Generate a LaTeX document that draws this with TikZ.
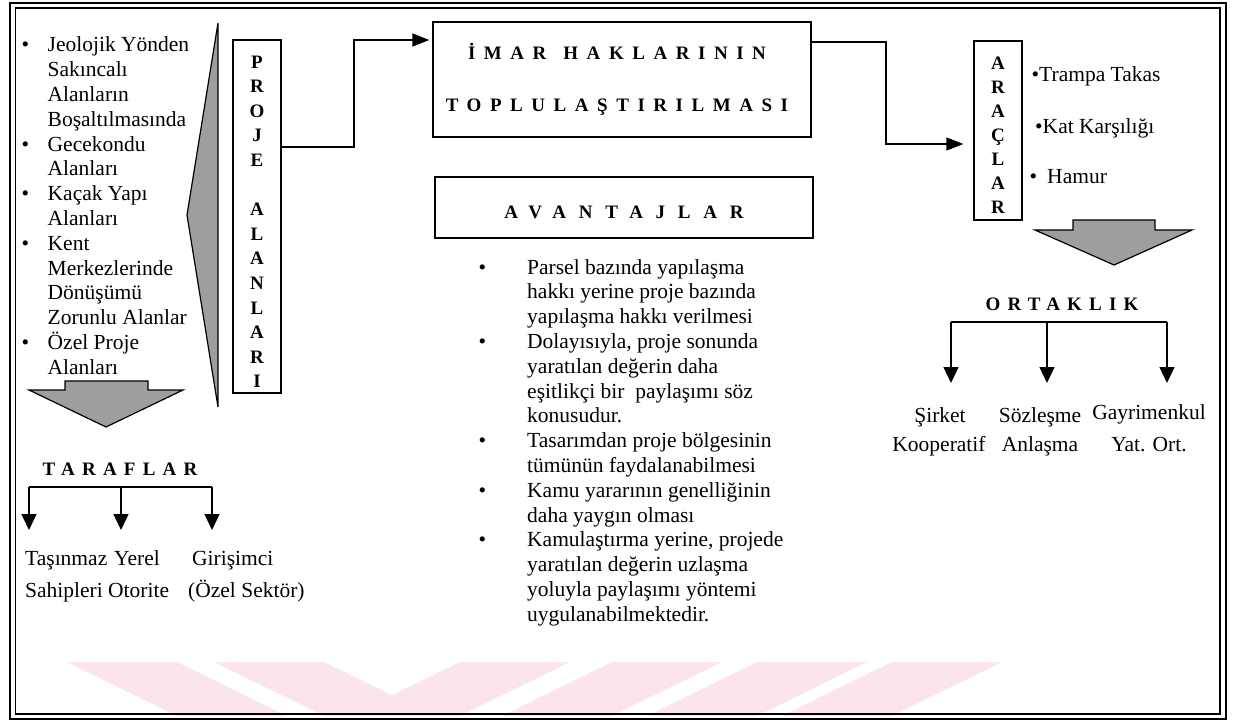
\documentclass[tikz,border=0pt]{standalone}
\usepackage{fontspec}
\setmainfont{Liberation Serif}
\newfontfamily\titlefont[LetterSpace=45]{Liberation Serif}
\newfontfamily\widefont[LetterSpace=67]{Liberation Serif}
\newfontfamily\headfont[LetterSpace=38]{Liberation Serif}
\usetikzlibrary{arrows.meta,positioning}
\definecolor{wmpink}{RGB}{252,229,234}
\definecolor{stipple}{gray}{0.62}
\tikzset{
  box/.style={draw, line width=1.3pt, inner sep=0pt},
  flow/.style={line width=1.4pt, -{Triangle[length=17pt,width=13pt]}},
  branch/.style={line width=1.4pt, -{Triangle[length=16pt,width=15pt]}},
  body/.style={font=\fontsize{21.5}{24.8}\selectfont, inner sep=0pt},
  head/.style={font=\headfont\bfseries\fontsize{19}{24}\selectfont, inner sep=0pt, anchor=base},
  blockarrow/.style={draw, line width=1.2pt, fill=stipple},
}
\begin{document}
\begin{tikzpicture}[x=1pt,y=-1pt]
\useasboundingbox (0,0) rectangle (1234,722);

% watermark stripes
\foreach \a in {67,214} \fill[wmpink] (\a,662) -- (\a+110,662) -- (\a+220,716) -- (\a+110,716) -- cycle;
\foreach \a in {460,612,757,892} \fill[wmpink] (\a,662) -- (\a+110,662) -- (\a,716) -- (\a-110,716) -- cycle;

% frame
\draw[line width=2.4pt] (10,3) rectangle (1226,719);
\draw[line width=1.4pt] (15.5,8) rectangle (1220,714);

% left column
\node[body, anchor=base west] (areas) at (21.5,52) {\begin{tabular}[t]{@{}p{26pt}@{}l@{}}
• & Jeolojik Yönden\\
  & Sakıncalı\\
  & Alanların\\
  & Boşaltılmasında\\
• & Gecekondu\\
  & Alanları\\
• & Kaçak Yapı\\
  & Alanları\\
• & Kent\\
  & Merkezlerinde\\
  & Dönüşümü\\
  & Zorunlu Alanlar\\
• & Özel Proje\\
  & Alanları
\end{tabular}};
\filldraw[blockarrow] (218,23) -- (187,215) -- (218,407) -- cycle;
\node[box, minimum width=48pt, minimum height=353pt, align=center, font=\bfseries\fontsize{19}{24.6}\selectfont] (projebox) at (257,216.5)
  {\rule{0pt}{23pt}P\\R\\O\\J\\E\\[24.6pt]A\\L\\A\\N\\L\\A\\R\\I};
\filldraw[blockarrow] (65,381) -- (148,381) -- (148,390) -- (183,390) -- (106,427) -- (29,390) -- (65,390) -- cycle;

% parties
\node[head] (taraflar) at (120,475) {TARAFLAR};
\foreach \x [count=\i] in {29,121,212} {
  \coordinate (tb\i) at (\x,487);
  \coordinate (tt\i) at (\x,530);
}
\draw[line width=1.4pt] (tb1) -- (tb3);
\foreach \i in {1,2,3} \draw[branch] (tb\i) -- (tt\i);
\node[body, anchor=base west] (owners) at (25,565) {Taşınmaz};
\node[body, anchor=base west] (local) at (114,565) {Yerel};
\node[body, anchor=base west] (investor) at (192,565) {Girişimci};
\node[body, anchor=base west] (owners2) at (25,597) {Sahipleri};
\node[body, anchor=base west] (local2) at (108,597) {Otorite};
\node[body, anchor=base west] (investor2) at (188,597) {(Özel Sektör)};

% centre column
\node[box, minimum width=378pt, minimum height=115pt, align=center, font=\titlefont\bfseries\fontsize{19}{52}\selectfont] (imar) at (622,79.5)
  {İMAR\hspace{17pt}HAKLARININ\kern10pt\\TOPLULAŞTIRILMASI\kern10pt};
\node[box, minimum width=378pt, minimum height=61pt, text height=21.5pt, font=\widefont\bfseries\fontsize{19}{24}\selectfont] (avantaj) at (624,207.5)
  {AVANTAJLAR};
\node[body, anchor=base west] (merits) at (478.5,274) {\begin{tabular}[t]{@{}p{48.5pt}@{}l@{}}
• & Parsel bazında yapılaşma\\
  & hakkı yerine proje bazında\\
  & yapılaşma hakkı verilmesi\\
• & Dolayısıyla, proje sonunda\\
  & yaratılan değerin daha\\
  & eşitlikçi bir\ \ paylaşımı söz\\
  & konusudur.\\
• & Tasarımdan proje bölgesinin\\
  & tümünün faydalanabilmesi\\
• & Kamu yararının genelliğinin\\
  & daha yaygın olması\\
• & Kamulaştırma yerine, projede\\
  & yaratılan değerin uzlaşma\\
  & yoluyla paylaşımı yöntemi\\
  & uygulanabilmektedir.
\end{tabular}};

\draw[flow, shorten >=3pt] (projebox.east |- 0,147) -| (354,40) -- (imar.west |- 0,40);

% right column
\node[box, minimum width=48pt, minimum height=179pt, align=center, font=\bfseries\fontsize{19}{24}\selectfont] (araclar) at (998,130.5)
  {\rule{0pt}{21.5pt}A\\R\\A\\Ç\\L\\A\\R};
\draw[flow, shorten >=10pt] (imar.east |- 0,42) -| (886,144) -- (araclar.west |- 0,144);
\node[body, anchor=base west] (trampa) at (1031.5,82) {•Trampa Takas};
\node[body, anchor=base west] (kat) at (1035,134) {•Kat Karşılığı};
\node[body, anchor=base west] (hamur) at (1029.5,184) {•\hspace{10pt}Hamur};
\filldraw[blockarrow] (1073,220) -- (1155,220) -- (1155,230) -- (1192,230) -- (1114,265) -- (1035,230) -- (1073,230) -- cycle;

% partnership
\node[head] (ortaklik) at (1062,310) {ORTAKLIK};
\foreach \x [count=\i] in {951,1047,1167} {
  \coordinate (ob\i) at (\x,322);
  \coordinate (ot\i) at (\x,383);
}
\draw[line width=1.4pt] (ob1) -- (ob3);
\foreach \i in {1,2,3} \draw[branch] (ob\i) -- (ot\i);
\node[body, anchor=base] (sirket) at (940,422) {Şirket};
\node[body, anchor=base] (sozlesme) at (1040,422) {Sözleşme};
\node[body, anchor=base] (gayri) at (1149,419) {Gayrimenkul};
\node[body, anchor=base] (koop) at (939,451) {Kooperatif};
\node[body, anchor=base] (anlasma) at (1040,451) {Anlaşma};
\node[body, anchor=base] (yatort) at (1149,451) {Yat. Ort.};
\end{tikzpicture}
\end{document}
